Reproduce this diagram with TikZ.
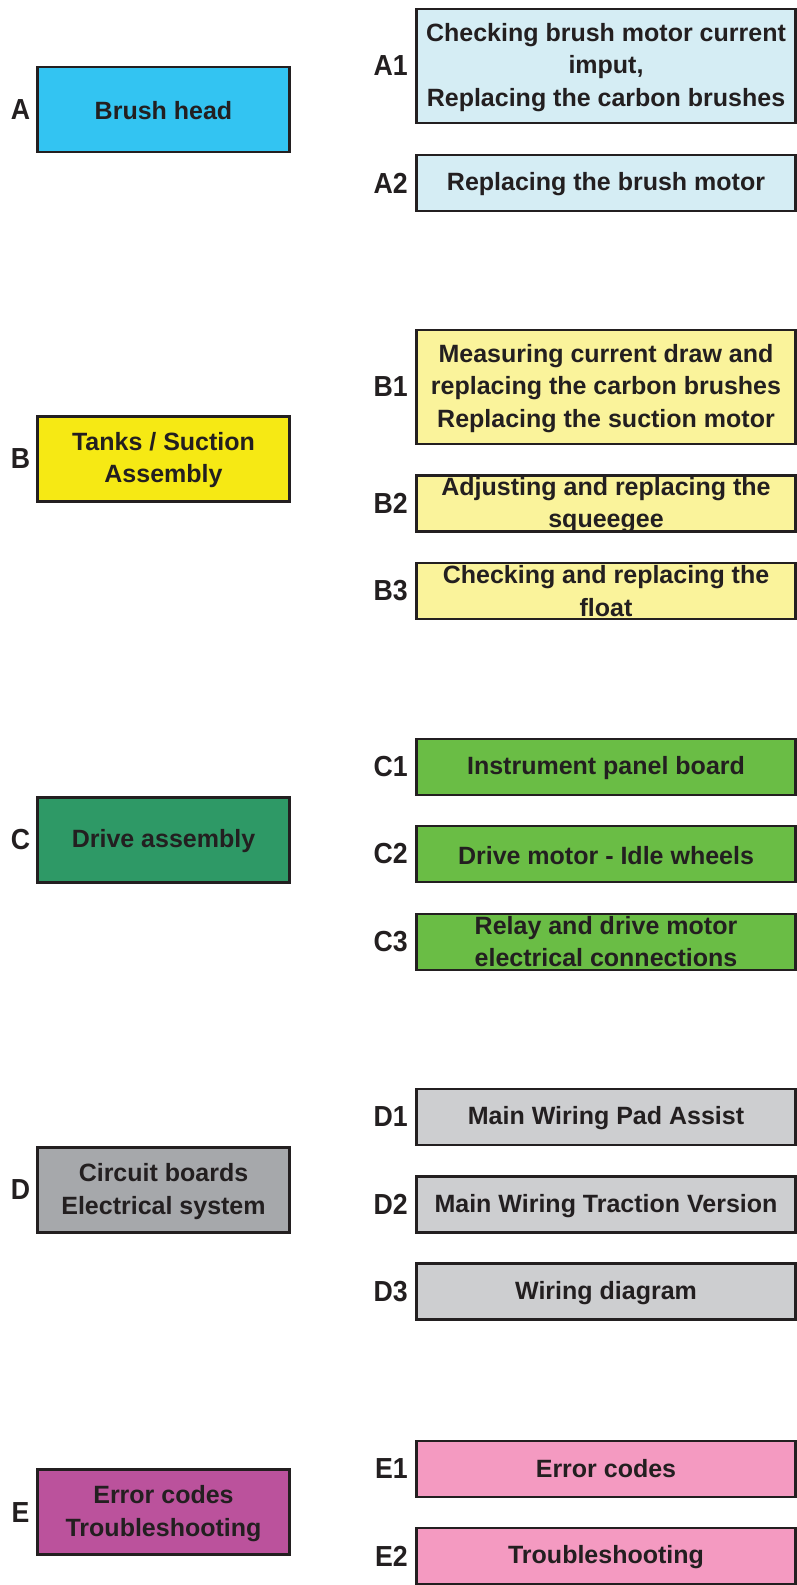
\documentclass[tikz,border=0pt]{standalone}
\usepackage{fontspec}
\setmainfont{Liberation Sans}
\definecolor{ink}{HTML}{231F20}
\definecolor{amain}{HTML}{33C4F2}
\definecolor{asub}{HTML}{D5EDF4}
\definecolor{bmain}{HTML}{F6E914}
\definecolor{bsub}{HTML}{FAF39B}
\definecolor{cmain}{HTML}{2E9966}
\definecolor{csub}{HTML}{6ABD45}
\definecolor{dmain}{HTML}{A6A8AB}
\definecolor{dsub}{HTML}{CDCED0}
\definecolor{emain}{HTML}{BB529C}
\definecolor{esub}{HTML}{F49AC1}
\tikzset{
  basebox/.style={inner sep=0pt, outer sep=0pt},
  mainbox/.style={basebox, minimum width=252pt, minimum height=85pt},
  subbox/.style={basebox, minimum width=378.5pt},
  frame/.style={draw=ink, line width=2.7pt},
  boxtext/.style={text=ink, align=center, inner sep=0pt,
    font=\fontsize{25pt}{32.5pt}\selectfont\bfseries},
  tag/.style={text=ink, inner sep=0pt,
    font=\fontsize{29pt}{30pt}\selectfont\bfseries},
}
\newcommand{\tagtext}[1]{\scalebox{0.92}[1]{#1}}
\begin{document}
\begin{tikzpicture}[x=1pt,y=-1pt]
\useasboundingbox (0,0) rectangle (796,1585);
\coordinate (lx) at (20.5,0);
\coordinate (rx) at (408,0);

% ---- main groups (left column)
\node[mainbox, fill=amain] (A) at (163.5,109.5) {};
\node[mainbox, fill=bmain] (B) at (163.5,458.7) {};
\node[mainbox, fill=cmain] (C) at (163.5,840) {};
\node[mainbox, fill=dmain] (D) at (163.5,1190) {};
\node[mainbox, fill=emain] (E) at (163.5,1512.2) {};

\node[boxtext] (At) at ([yshift=-1.5pt]A) {Brush head};
\node[boxtext] (Bt) at ([yshift=-1.5pt]B) {Tanks / Suction\\Assembly};
\node[boxtext] (Ct) at ([yshift=-1.5pt]C) {Drive assembly};
\node[boxtext] (Dt) at ([yshift=-1.5pt]D) {Circuit boards\\Electrical system};
\node[boxtext] (Et) at ([yshift=-1.5pt]E) {Error codes\\Troubleshooting};

\foreach \n in {A,B,C,D,E}
  \node[tag] (\n l) at (lx |- \n) {\tagtext{\n}};

% ---- sub-items (right column)
\node[subbox, fill=asub, minimum height=114pt] (A1) at (606,66) {};
\node[subbox, fill=asub, minimum height=56pt] (A2) at (606,183) {};
\node[subbox, fill=bsub, minimum height=114pt] (B1) at (606,387) {};
\node[subbox, fill=bsub, minimum height=56pt] (B2) at (606,503.5) {};
\node[subbox, fill=bsub, minimum height=56pt] (B3) at (606,591) {};
\node[subbox, fill=csub, minimum height=56pt] (C1) at (606,767) {};
\node[subbox, fill=csub, minimum height=56pt] (C2) at (606,854) {};
\node[subbox, fill=csub, minimum height=56pt] (C3) at (606,942) {};
\node[subbox, fill=dsub, minimum height=56pt] (D1) at (606,1117) {};
\node[subbox, fill=dsub, minimum height=56pt] (D2) at (606,1204.7) {};
\node[subbox, fill=dsub, minimum height=56pt] (D3) at (606,1291.7) {};
\node[subbox, fill=esub, minimum height=56pt] (E1) at (606,1469) {};
\node[subbox, fill=esub, minimum height=56pt] (E2) at (606,1556) {};

\node[boxtext] (A1t) at ([yshift=-1.5pt]A1) {Checking brush motor current\\imput,\\Replacing the carbon brushes};
\node[boxtext] (A2t) at ([yshift=-1.5pt]A2) {Replacing the brush motor};
\node[boxtext] (B1t) at ([yshift=-1.5pt]B1) {Measuring current draw and\\replacing the carbon brushes\\Replacing the suction motor};
\node[boxtext] (B2t) at ([yshift=-1.5pt]B2) {Adjusting and replacing the\\squeegee};
\node[boxtext] (B3t) at ([yshift=0pt]B3) {Checking and replacing the\\float};
\node[boxtext] (C1t) at ([yshift=-1.5pt]C1) {Instrument panel board};
\node[boxtext] (C2t) at ([yshift=-1.5pt]C2) {Drive motor - Idle wheels};
\node[boxtext] (C3t) at ([yshift=0.5pt]C3) {Relay and drive motor\\electrical connections};
\node[boxtext] (D1t) at ([yshift=-1.5pt]D1) {Main Wiring Pad Assist};
\node[boxtext] (D2t) at ([yshift=-1.5pt]D2) {Main Wiring Traction Version};
\node[boxtext] (D3t) at ([yshift=-1.5pt]D3) {Wiring diagram};
\node[boxtext] (E1t) at ([yshift=0pt]E1) {Error codes};
\node[boxtext] (E2t) at ([yshift=-1.5pt]E2) {Troubleshooting};

\foreach \n in {A1,A2,B1,B2,B3,C1,C2,C3,D1,D2,D3,E1,E2}
  \node[tag, anchor=east] (\n l) at (rx |- \n) {\tagtext{\n}};

% ---- frames, drawn last so they sit over any overhanging text
\foreach \n in {A,B,C,D,E,A1,A2,B1,B2,B3,C1,C2,C3,D1,D2,D3,E1,E2}
  \draw[frame] (\n.north west) rectangle (\n.south east);
\end{tikzpicture}
\end{document}
